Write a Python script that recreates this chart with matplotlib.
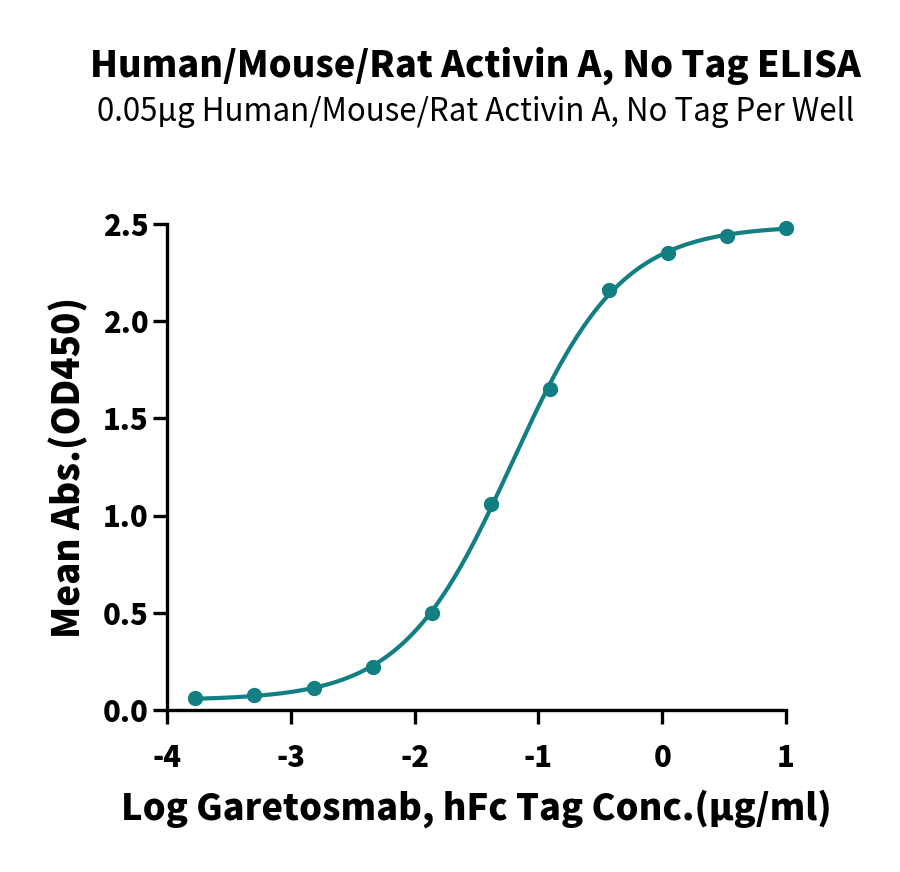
import numpy as np
import matplotlib
matplotlib.use("Agg")
import matplotlib.pyplot as plt

# Data (3-fold dilutions from 10 ug/ml)
log_conc = [-3.771, -3.294, -2.817, -2.340, -1.863, -1.385, -0.908, -0.431, 0.046, 0.523, 1.000]
mean_abs = [0.060, 0.075, 0.115, 0.220, 0.500, 1.060, 1.650, 2.160, 2.350, 2.440, 2.480]

title = "Human/Mouse/Rat Activin A, No Tag ELISA"
subtitle = "0.05\u03bcg Human/Mouse/Rat Activin A, No Tag Per Well"
x_label = "Log Garetosmab, hFc Tag Conc.(\u03bcg/ml)"
y_label = "Mean Abs.(OD450)"
x_ticks = [-4, -3, -2, -1, 0, 1]
y_ticks = [0.0, 0.5, 1.0, 1.5, 2.0, 2.5]

color = "#127f82"


def four_pl(x, p):
    bottom, top, logec50, hill = p
    return bottom + (top - bottom) / (1 + 10 ** ((logec50 - x) * hill))


def fit_four_pl(x, y, p0, n_iter=200):
    # plain Levenberg-Marquardt, no scipy needed
    p = np.array(p0, dtype=float)
    lam = 1e-3
    for _ in range(n_iter):
        r = y - four_pl(x, p)
        J = np.empty((len(x), len(p)))
        for k in range(len(p)):
            dp = np.zeros_like(p)
            dp[k] = 1e-6
            J[:, k] = (four_pl(x, p + dp) - four_pl(x, p - dp)) / 2e-6
        A = J.T @ J
        step = np.linalg.solve(A + lam * np.diag(np.diag(A)), J.T @ r)
        p_new = p + step
        if np.sum((y - four_pl(x, p_new)) ** 2) < np.sum(r ** 2):
            p = p_new
            lam *= 0.3
        else:
            lam *= 10
    return p


x = np.array(log_conc)
y = np.array(mean_abs)
params = fit_four_pl(x, y, [0.05, 2.5, -1.2, 1.0])
xs = np.linspace(x.min(), x.max(), 400)

# Noto Sans CJK uses Source Sans style latin glyphs, close to the reference
plt.rcParams['font.family'] = ['Noto Sans CJK JP', 'DejaVu Sans']

fig = plt.figure(figsize=(9, 8.72), dpi=100)
ax = fig.add_axes([0.1856, 0.1858, 0.6878, 0.5573])

ax.plot(xs, four_pl(xs, params), color=color, lw=3, clip_on=False, zorder=3)
ax.plot(x, y, "o", color=color, ms=10, clip_on=False, zorder=4)

ax.set_xlim(-4, 1)
ax.set_ylim(0, 2.5)
ax.set_xticks(x_ticks)
ax.set_xticklabels([str(t) for t in x_ticks])
ax.set_yticks(y_ticks)
ax.set_yticklabels([f"{t:.1f}" for t in y_ticks])

for s in ["top", "right"]:
    ax.spines[s].set_visible(False)
for s in ["left", "bottom"]:
    ax.spines[s].set_linewidth(2.4)
ax.tick_params(axis="both", width=2.4, length=10, labelsize=21)
ax.tick_params(axis="x", pad=14)
ax.tick_params(axis="y", pad=3)
for lab in ax.get_xticklabels() + ax.get_yticklabels():
    lab.set_fontweight("heavy")

ax.set_xlabel(x_label, fontsize=26, fontweight="heavy", labelpad=12)
ax.set_ylabel(y_label, fontsize=26.5, fontweight="heavy", labelpad=11)

fig.text(0.528, 0.925, title, ha="center", va="center", fontsize=26, fontweight="heavy")
fig.text(0.529, 0.871, subtitle, ha="center", va="center", fontsize=22.5)

fig.savefig("out.png", dpi=100)
